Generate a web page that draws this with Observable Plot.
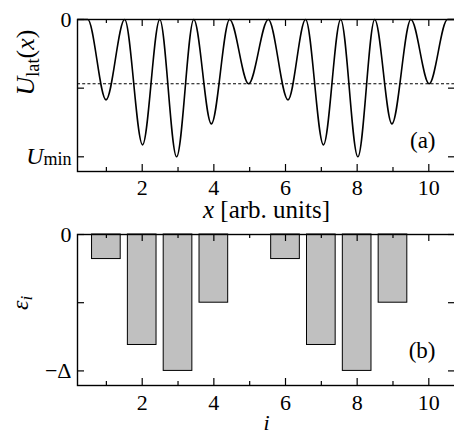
<!DOCTYPE html>
<html>
<head>
<meta charset="utf-8">
<script src="https://cdn.jsdelivr.net/npm/d3@7"></script>
<script src="https://cdn.jsdelivr.net/npm/@observablehq/plot@0.6"></script>
<style>
  html, body { margin: 0; padding: 0; background: white; }
  #chart svg { display: block; }
  #chart svg, #chart svg text, #chart svg tspan { font-family: "Liberation Serif", "Times New Roman", serif !important; }
</style>
</head>
<body>
<div id="chart"></div>
<script>
// ---------- data ----------
// panel (a): lattice potential U_lat(x) — positions of the maxima (U = 0) and of the wells
const edgeX = [0.2, 10.72];                 // curve lies on U = 0 at the frame edges
const peakX = [0.48, 1.51, 2.49, 3.44, 4.44, 5.52, 6.56, 7.54, 8.49, 9.50, 10.52];
const wellX = [0.99, 2.01, 2.96, 3.93, 4.97, 6.07, 7.06, 8.02, 8.97, 10.01];
const wellDepth = [-0.585, -0.913, -1.0, -0.76, -0.468, -0.585, -0.913, -1.0, -0.76, -0.468];
const dashedLevel = -0.468;

// panel (b): on-site energies eps_i
const siteIndex = [1, 2, 3, 4, 5, 6, 7, 8, 9, 10];
const siteEnergy = [-0.18, -0.81, -1.0, -0.5, 0, -0.18, -0.81, -1.0, -0.5, 0];

// axes
const xMajorTicks = [2, 4, 6, 8, 10];
const xMinorTicks = [1, 3, 5, 7, 9];
const yTicks = [0, -0.5, -1];
const yTickLabelsA = ["0", "", "U_min"];
const yTickLabelsB = ["0", "", "−Δ"];
const xLabelA = "x [arb. units]";
const xLabelB = "i";
const yLabelA = "U_lat(x)";
const yLabelB = "ε_i";
const panelTagA = "(a)";
const panelTagB = "(b)";

// ---------- build tables ----------
const curve = [];
edgeX.forEach(x => curve.push({x, u: 0}));
peakX.forEach(x => curve.push({x, u: 0}));
wellX.forEach((x, k) => curve.push({x, u: wellDepth[k]}));
curve.sort((a, b) => a.x - b.x);

const bars = siteIndex.map((i, k) => ({i, e: siteEnergy[k]})).filter(d => d.e !== 0);

// ---------- layout ----------
const W = 454;
const xDomain = [0.194, 10.745];
const yDomain = [-1.107, 0];
const marginLeft = 77, marginRight = -1;
const innerW = W - marginLeft - marginRight;
const FONT = "Liberation Serif";
const TICK_FS = 22;
const BAR_HALF = 0.4;

function frameTicks(innerH) {
  const ink = "black", sw = 1.2;
  return [
    Plot.tickX(xMajorTicks, {x: d => d, insetTop: innerH - 7, stroke: ink, strokeWidth: sw}),
    Plot.tickX(xMajorTicks, {x: d => d, insetBottom: innerH - 7, stroke: ink, strokeWidth: sw}),
    Plot.tickX(xMinorTicks, {x: d => d, insetTop: innerH - 4, stroke: ink, strokeWidth: sw}),
    Plot.tickX(xMinorTicks, {x: d => d, insetBottom: innerH - 4, stroke: ink, strokeWidth: sw}),
    Plot.tickY(yTicks, {y: d => d, insetRight: innerW - 7, stroke: ink, strokeWidth: sw}),
    Plot.tickY(yTicks, {y: d => d, insetLeft: innerW - 7, stroke: ink, strokeWidth: sw})
  ];
}

function axes(yLabels, xLab, yLab, tag, o) {
  return [
    Plot.axisX(xMajorTicks, {tickSize: 0, tickPadding: o.pad, fontSize: TICK_FS, label: null}),
    Plot.axisY(yTicks, {tickSize: 0, tickPadding: 6, fontSize: TICK_FS, label: null,
      tickFormat: (d) => yLabels[yTicks.indexOf(d)]}),
    Plot.text([xLab], {frameAnchor: "bottom", dy: o.xDy, lineAnchor: "bottom", fontSize: o.xFs}),
    Plot.text([yLab], {frameAnchor: "left", rotate: -90, dx: o.yDx, lineAnchor: "bottom", fontSize: o.yFs}),
    Plot.text([tag], {frameAnchor: "bottom-right", dx: -20, dy: o.tagDy, textAnchor: "end", lineAnchor: "bottom", fontSize: 23})
  ];
}

const style = {fontFamily: FONT, fontSize: TICK_FS + "px", color: "black", background: "white", overflow: "visible"};

const topH = 218, topMT = 19, topMB = 47;
const plotA = Plot.plot({
  width: W, height: topH,
  marginLeft, marginRight, marginTop: topMT, marginBottom: topMB,
  style,
  x: {domain: xDomain, axis: null},
  y: {domain: yDomain, axis: null},
  marks: [
    Plot.ruleY([dashedLevel], {stroke: "black", strokeWidth: 1, strokeDasharray: "3,2.2"}),
    Plot.line(curve, {x: "x", y: "u", curve: "monotone-x", stroke: "black", strokeWidth: 1.6}),
    Plot.frame({stroke: "black", strokeWidth: 1.4}),
    ...frameTicks(topH - topMT - topMB),
    ...axes(yTickLabelsA, xLabelA, yLabelA, panelTagA,
      {pad: 7.5, xDy: 46.5, xFs: 25, yDx: -44, yFs: 26, tagDy: -23.5})
  ]
});

const botH = 216, botMT = 16, botMB = 49;
const plotB = Plot.plot({
  width: W, height: botH,
  marginLeft, marginRight, marginTop: botMT, marginBottom: botMB,
  style,
  x: {domain: xDomain, axis: null},
  y: {domain: yDomain, axis: null},
  marks: [
    Plot.rectY(bars, {x1: d => d.i - BAR_HALF, x2: d => d.i + BAR_HALF, y1: 0, y2: "e",
      fill: "#c0c0c0", stroke: "black", strokeWidth: 1}),
    Plot.frame({stroke: "black", strokeWidth: 1.4}),
    ...frameTicks(botH - botMT - botMB),
    ...axes(yTickLabelsB, xLabelB, yLabelB, panelTagB,
      {pad: 8.5, xDy: 44.5, xFs: 22, yDx: -50, yFs: 24, tagDy: -27.5})
  ]
});

// ---------- rich text (italics / subscripts) ----------
const rich = {
  "U_min": [{t: "U", it: true, size: 1.08}, {t: "min", sub: 0.06, size: 0.82}],
  "U_lat(x)": [{t: "U", it: true}, {t: "lat", sub: 0.2, size: 0.7}, {t: "("}, {t: "x", it: true}, {t: ")"}],
  "x [arb. units]": [{t: "x", it: true}, {t: " [arb. units]"}],
  "ε_i": [{t: "ε", it: true}, {t: "i", it: true, sub: 0.2, size: 0.7}],
  "i": [{t: "i", it: true}]
};
function applyRich(svg) {
  d3.select(svg).selectAll("text").each(function () {
    const key = this.textContent;
    const segs = rich[key];
    if (!segs) return;
    const fs = parseFloat(this.getAttribute("font-size")) ||
               parseFloat(this.parentNode.getAttribute("font-size")) || TICK_FS;
    this.textContent = "";
    let shift = 0;
    for (const s of segs) {
      const ts = document.createElementNS("http://www.w3.org/2000/svg", "tspan");
      ts.textContent = s.t;
      if (s.it) ts.setAttribute("font-style", "italic");
      const target = s.sub ? s.sub * fs : 0;
      if (target !== shift) { ts.setAttribute("dy", (target - shift) + "px"); shift = target; }
      if (s.size) ts.setAttribute("font-size", (s.size * fs) + "px");
      this.appendChild(ts);
    }
  });
}
applyRich(plotA);
applyRich(plotB);

document.getElementById("chart").append(plotA, plotB);
</script>
</body>
</html>
